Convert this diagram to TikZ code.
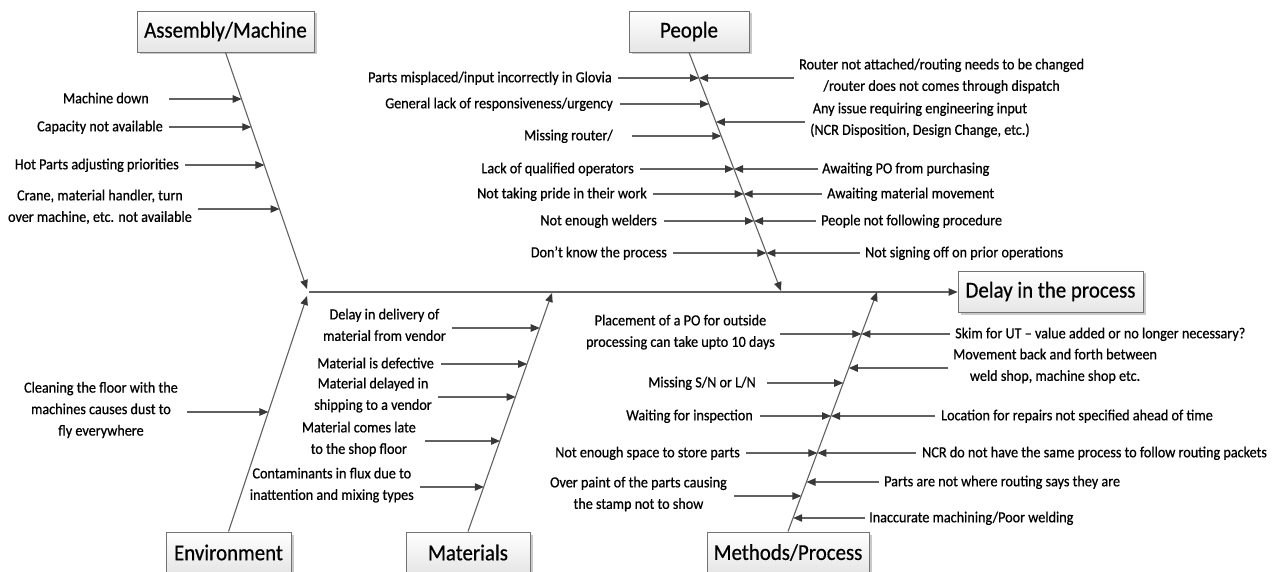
\documentclass[tikz,border=0pt]{standalone}
\usepackage{fontspec}
\setmainfont{Carlito}[FakeStretch=0.92, FakeBold=0.6]
\usetikzlibrary{arrows.meta,shadows}

\newcommand\causefont{\fontsize{15.4pt}{21.5pt}\selectfont}
\newcommand\headfont{\fontsize{22.7pt}{26pt}\selectfont}

% cause label on the left of a bone: name, arrow start x, y, gap, tip x, text
\newcommand\causeL[6]{%
  \node[lcause=#4] (#1) at (#2,#3) {#6};
  \coordinate (#1-tip) at (#5,#3);
  \draw[arr] (#1.east) -- (#1-tip);}
% cause label on the right of a bone: name, arrow start x, y, gap, tip x, text
\newcommand\causeR[6]{%
  \node[rcause=#4] (#1) at (#2,#3) {#6};
  \coordinate (#1-tip) at (#5,#3);
  \draw[arr] (#1.west) -- (#1-tip);}

\begin{document}
\begin{tikzpicture}[x=1pt,y=-1pt,
  catbox/.style={draw=black!55, line width=0.9pt, top color=white, bottom color=black!10,
    drop shadow={shadow xshift=2.5pt, shadow yshift=-2.5pt, opacity=0.35, fill=black!60},
    minimum height=41pt, inner sep=0pt, font=\headfont, text=black},
  cause/.style={font=\causefont, align=center, inner ysep=0pt, text=black,
    execute at begin node=\strut, execute at end node=\strut},
  lcause/.style={cause, anchor=east, inner xsep=#1},
  rcause/.style={cause, anchor=west, inner xsep=#1},
  arr/.style={draw=black!62, line width=1.1pt,
    -{Triangle[length=9pt,width=7.5pt,color=black!78]}}
]
\path[use as bounding box, clip] (0,0) rectangle (1275,572);
\fill[white] (0,0) rectangle (1275,572);

% category boxes and the effect
\node[catbox, minimum width=177pt] (asm) at (225.5,31.5) {Assembly/Machine};
\node[catbox, minimum width=120pt] (ppl) at (689,31.5) {People};
\node[catbox, minimum width=185pt] (dly) at (1050.5,291.5) {Delay in the process};
\node[catbox, minimum width=125pt] (env) at (228.5,552.5) {Environment};
\node[catbox, minimum width=124pt] (mat) at (468,552.5) {Materials};
\node[catbox, minimum width=162pt] (mth) at (788,552.5) {Methods/Process};

% spine
\coordinate (sp) at (309,292);
\draw[arr] (sp) -- (sp -| dly.west);

% main bones
\coordinate (asmT) at (307,289);
\coordinate (pplT) at (781,291);
\coordinate (envT) at (307,296);
\coordinate (matT) at (552,293);
\coordinate (mthT) at (877,292);
\draw[arr] (asm.south) -- (asmT);
\draw[arr] (ppl.south) -- (pplT);
\draw[arr] (env.north) -- (envT);
\draw[arr] (mat.north) -- (matT);
\draw[arr] (mth.north) -- (mthT);

% Assembly/Machine
\causeL{a1}{169}{99}{20pt}{241.7}{Machine down}
\causeL{a2}{169}{127}{6pt}{251.3}{Capacity not available}
\causeL{a3}{185}{165}{6pt}{264.4}{Hot Parts adjusting priorities}
\causeL{a4}{198}{209}{6pt}{279.5}{Crane, material handler, turn\\over machine, etc. not available}

% People, left side
\causeL{p1}{618}{78}{6pt}{699.0}{Parts misplaced/input incorrectly in Glovia}
\causeL{p2}{620}{104}{7pt}{709.0}{General lack of responsiveness/urgency}
\causeL{p3}{632}{136}{19pt}{721.3}{Missing router/}
\causeL{p4}{640}{169}{6pt}{734.0}{Lack of qualified operators}
\causeL{p5}{653}{194}{6pt}{743.7}{Not taking pride in their work}
\causeL{p6}{664}{221}{7pt}{754.0}{Not enough welders}
\causeL{p7}{673}{253}{6pt}{766.4}{Don’t know the process}

% People, right side
\causeR{q1}{794}{78}{5pt}{699.0}{Router not attached/routing needs to be changed\\/router does not comes through dispatch}
\causeR{q2}{805}{122}{5pt}{715.9}{Any issue requiring engineering input\\(NCR Disposition, Design Change, etc.)}
\causeR{q3}{818}{169}{4pt}{734.0}{Awaiting PO from purchasing}
\causeR{q4}{822}{194}{5pt}{743.7}{Awaiting material movement}
\causeR{q5}{816}{221}{5pt}{754.0}{People not following procedure}
\causeR{q6}{860}{253}{5pt}{766.4}{Not signing off on prior operations}

% Environment
\causeL{e1}{187}{412}{9pt}{268.4}{Cleaning the floor with the\\machines causes dust to\\fly everywhere}

% Materials
\causeL{m1}{452}{328}{6pt}{539.7}{Delay in delivery of\\material from vendor}
\causeL{m2}{441}{364}{7pt}{527.1}{Material is defective}
\causeL{m3}{438}{397}{6pt}{515.5}{Material delayed in\\shipping to a vendor}
\causeL{m4}{425}{441}{9pt}{500.0}{Material comes late\\to the shop floor}
\causeL{m5}{420}{487}{6pt}{483.8}{Contaminants in flux due to\\inattention and mixing types}

% Methods/Process, left side
\causeL{t1}{780}{334}{5pt}{861.4}{Placement of a PO for outside\\processing can take upto 10 days}
\causeL{t2}{767}{383}{11pt}{843.2}{Missing S/N or L/N}
\causeL{t3}{760}{416}{7pt}{831.0}{Waiting for inspection}
\causeL{t4}{746}{453}{6pt}{817.3}{Not enough space to store parts}
\causeL{t5}{734}{496}{7pt}{801.3}{Over paint of the parts causing\\the stamp not to show}

% Methods/Process, right side
\causeR{r1}{950}{334}{5pt}{861.4}{Skim for UT – value added or no longer necessary?}
\causeR{r2}{948}{368}{5pt}{848.8}{Movement back and forth between\\weld shop, machine shop etc.}
\causeR{r3}{935}{416}{6pt}{831.0}{Location for repairs not specified ahead of time}
\causeR{r4}{916}{453}{6pt}{817.3}{NCR do not have the same process to follow routing packets}
\causeR{r5}{879}{482}{5pt}{806.5}{Parts are not where routing says they are}
\causeR{r6}{865}{518}{4pt}{793.2}{Inaccurate machining/Poor welding}
\end{tikzpicture}
\end{document}
